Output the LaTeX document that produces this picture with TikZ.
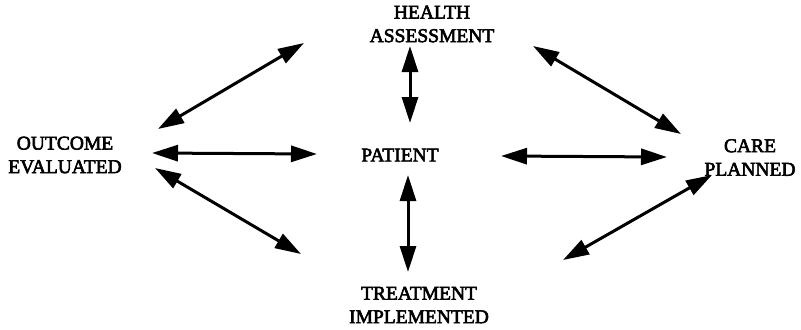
\documentclass[tikz,border=0pt]{standalone}
\usepackage{fontspec}
\newfontfamily\labelfont[FakeBold=3]{Liberation Serif}
\usetikzlibrary{arrows.meta}
\begin{document}
\begin{tikzpicture}[x=1bp,y=-1bp,
  label text/.style={font=\labelfont\fontsize{19.5bp}{23.5bp}\selectfont,
    align=center, inner sep=0pt},
  link/.style={line width=3bp, {Triangle[length=26bp,width=16bp]}-{Triangle[length=26bp,width=16bp]}}]
  \path[use as bounding box] (0,0) rectangle (801,329);

  % stages of the cycle round the patient
  \node[label text] (ha) at (432,24) {HEALTH\\ASSESSMENT};
  \node[label text] (oe) at (65,155) {OUTCOME\\EVALUATED};
  \node[label text] (pt) at (400,155) {PATIENT};
  \node[label text] (cp) at (750,157.5) {CARE\\PLANNED};
  \node[label text] (ti) at (419,305) {TREATMENT\\IMPLEMENTED};

  % arrow ends
  \coordinate (a1) at (158,129); \coordinate (b1) at (304,43);
  \coordinate (a2) at (152,153); \coordinate (b2) at (317,154);
  \coordinate (a3) at (155,168); \coordinate (b3) at (301,254);
  \coordinate (a4) at (410,46);  \coordinate (b4) at (410,123);
  \coordinate (a5) at (408,175); \coordinate (b5) at (408,272);
  \coordinate (a6) at (533,46);  \coordinate (b6) at (681,134);
  \coordinate (a7) at (501,156); \coordinate (b7) at (667,157);
  \coordinate (a8) at (563,260); \coordinate (b8) at (712,175);

  % two-way links
  \foreach \i in {1,...,8} {\draw[link] (a\i) -- (b\i);}
\end{tikzpicture}
\end{document}
